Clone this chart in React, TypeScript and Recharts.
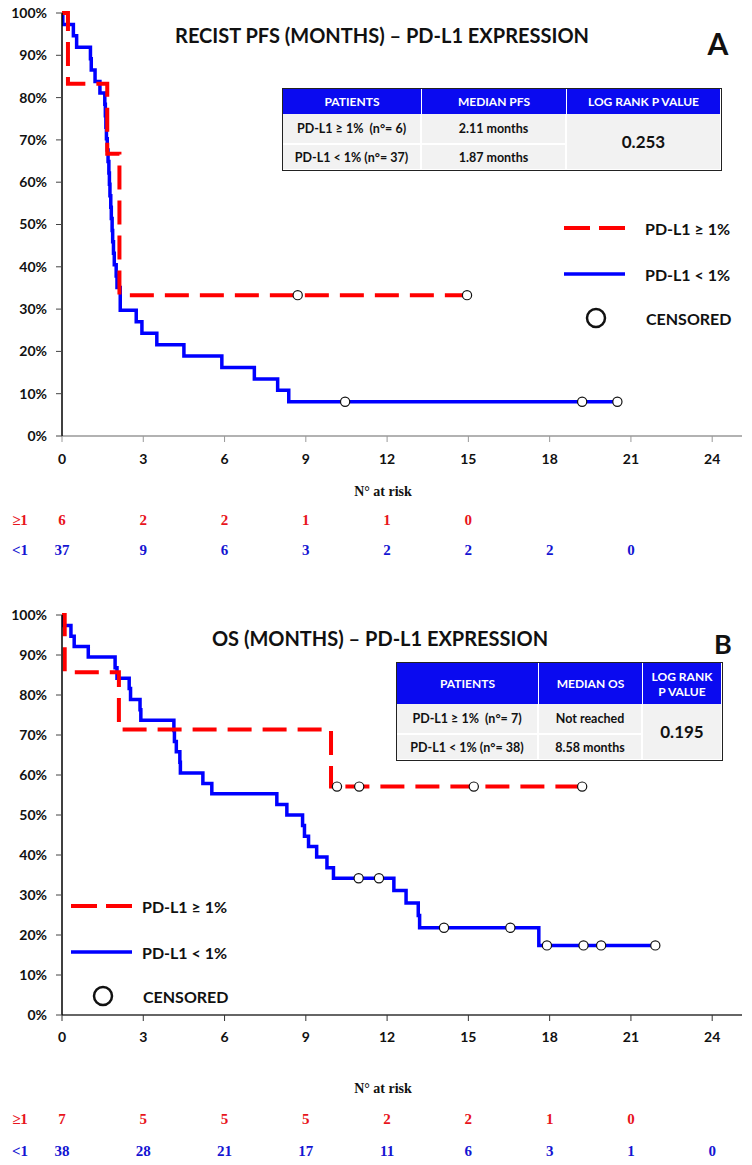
import React from 'react';
import { ComposedChart, Line, Scatter, XAxis, YAxis } from 'recharts';

type Pt = { t: number; s: number };

const X_TICKS = [0, 3, 6, 9, 12, 15, 18, 21, 24];
const Y_TICKS = [0, 10, 20, 30, 40, 50, 60, 70, 80, 90, 100];
const X_MAX = 25.1;

// Panel A – RECIST PFS
const pfsHigh: Pt[] = [
  { t: 0, s: 100 }, { t: 0.22, s: 83.3 }, { t: 1.67, s: 66.7 }, { t: 2.12, s: 33.3 }, { t: 14.95, s: 33.3 },
];
const pfsHighCensored: Pt[] = [{ t: 8.7, s: 33.3 }, { t: 14.95, s: 33.3 }];
const pfsLow: Pt[] = [
  { t: 0, s: 100 }, { t: 0.03, s: 97.3 }, { t: 0.42, s: 94.6 }, { t: 0.54, s: 91.9 }, { t: 1.05, s: 89.2 },
  { t: 1.08, s: 86.5 }, { t: 1.22, s: 83.8 }, { t: 1.4, s: 81.1 }, { t: 1.58, s: 78.4 }, { t: 1.6, s: 75.7 },
  { t: 1.62, s: 73.0 }, { t: 1.64, s: 70.3 }, { t: 1.67, s: 67.6 }, { t: 1.7, s: 64.9 }, { t: 1.73, s: 62.2 },
  { t: 1.75, s: 59.5 }, { t: 1.77, s: 56.8 }, { t: 1.8, s: 54.1 }, { t: 1.82, s: 51.4 }, { t: 1.85, s: 48.6 },
  { t: 1.87, s: 45.9 }, { t: 1.9, s: 43.2 }, { t: 1.93, s: 40.5 }, { t: 2.0, s: 37.8 }, { t: 2.03, s: 35.1 },
  { t: 2.15, s: 29.7 }, { t: 2.74, s: 27.0 }, { t: 2.95, s: 24.3 }, { t: 3.5, s: 21.6 }, { t: 4.5, s: 18.9 },
  { t: 5.9, s: 16.2 }, { t: 7.1, s: 13.5 }, { t: 7.96, s: 10.8 }, { t: 8.37, s: 8.1 }, { t: 20.5, s: 8.1 },
];
const pfsLowCensored: Pt[] = [{ t: 10.45, s: 8.1 }, { t: 19.2, s: 8.1 }, { t: 20.5, s: 8.1 }];
const pfsRiskHigh = [6, 2, 2, 1, 1, 0];
const pfsRiskLow = [37, 9, 6, 3, 2, 2, 2, 0];

// Panel B – OS
const osHigh: Pt[] = [
  { t: 0, s: 100 }, { t: 0.1, s: 85.7 }, { t: 2.1, s: 71.4 }, { t: 9.93, s: 57.1 }, { t: 19.2, s: 57.1 },
];
const osHighCensored: Pt[] = [{ t: 10.15, s: 57.1 }, { t: 10.97, s: 57.1 }, { t: 15.2, s: 57.1 }, { t: 19.2, s: 57.1 }];
const osLow: Pt[] = [
  { t: 0, s: 100 }, { t: 0.05, s: 97.4 }, { t: 0.33, s: 94.7 }, { t: 0.45, s: 92.1 }, { t: 0.97, s: 89.5 },
  { t: 1.96, s: 86.8 }, { t: 2.03, s: 84.2 }, { t: 2.48, s: 81.6 }, { t: 2.53, s: 78.9 }, { t: 2.88, s: 76.3 },
  { t: 2.91, s: 73.7 }, { t: 4.13, s: 71.1 }, { t: 4.15, s: 68.4 }, { t: 4.22, s: 65.8 }, { t: 4.35, s: 63.2 },
  { t: 4.37, s: 60.5 }, { t: 5.2, s: 57.9 }, { t: 5.53, s: 55.3 }, { t: 7.93, s: 52.6 }, { t: 8.3, s: 50.0 },
  { t: 8.88, s: 47.4 }, { t: 8.95, s: 44.7 }, { t: 9.1, s: 42.1 }, { t: 9.4, s: 39.5 }, { t: 9.78, s: 36.8 },
  { t: 10.02, s: 34.2 }, { t: 12.25, s: 31.1 }, { t: 12.7, s: 28.0 }, { t: 13.15, s: 24.9 }, { t: 13.2, s: 21.8 },
  { t: 17.6, s: 17.4 }, { t: 21.9, s: 17.4 },
];
const osLowCensored: Pt[] = [
  { t: 10.95, s: 34.2 }, { t: 11.7, s: 34.2 }, { t: 14.1, s: 21.8 }, { t: 16.55, s: 21.8 },
  { t: 17.9, s: 17.4 }, { t: 19.25, s: 17.4 }, { t: 19.9, s: 17.4 }, { t: 21.9, s: 17.4 },
];
const osRiskHigh = [7, 5, 5, 5, 2, 2, 1, 0];
const osRiskLow = [38, 28, 21, 17, 11, 6, 3, 1, 0];

const FONT = "Lato, 'Open Sans', sans-serif";
const SERIF = "'Liberation Serif', 'Times New Roman', serif";
const RED = '#FF0000';
const BLUE = '#0000FF';
const RISK_RED = '#E8141C';
const RISK_BLUE = '#1414D2';
const HEADER_BLUE = '#0A0AF0';

const Censor = (props: any) => {
  const { cx, cy } = props;
  if (cx == null || cy == null) return <g />;
  return <circle cx={cx} cy={cy} r={4.6} fill="#fff" stroke="#111" strokeWidth={1.2} />;
};

function riskTick(high: number[], low: number[], dyLabel: number, dyHigh: number, dyLow: number) {
  return (props: any) => {
    const { x, y, payload } = props;
    const i = Math.round(payload.value / 3);
    return (
      <g>
        <text x={x} y={y + dyLabel} textAnchor="middle" dominantBaseline="central" fontFamily={FONT} fontWeight={700} fontSize={14} fill="#111">
          {payload.value}
        </text>
        {i < high.length && (
          <text x={x} y={y + dyHigh} textAnchor="middle" dominantBaseline="central" fontFamily={SERIF} fontWeight={700} fontSize={15} fill={RISK_RED}>
            {high[i]}
          </text>
        )}
        {i < low.length && (
          <text x={x} y={y + dyLow} textAnchor="middle" dominantBaseline="central" fontFamily={SERIF} fontWeight={700} fontSize={15} fill={RISK_BLUE}>
            {low[i]}
          </text>
        )}
      </g>
    );
  };
}

type PanelProps = {
  top: number; marginTop: number; plotHeight: number; axisHeight: number;
  high: Pt[]; highCens: Pt[]; low: Pt[]; lowCens: Pt[];
  riskHigh: number[]; riskLow: number[]; dys: [number, number, number]; xAxisColor: string;
};

function KMPanel(p: PanelProps) {
  const height = p.marginTop + p.plotHeight + p.axisHeight;
  return (
    <div style={{ position: 'absolute', left: 0, top: p.top }}>
      <ComposedChart width={752} height={height} margin={{ top: p.marginTop, right: 10, bottom: 0, left: 0 }}>
        <XAxis
          xAxisId={0}
          type="number"
          dataKey="t"
          domain={[0, X_MAX]}
          ticks={X_TICKS}
          interval={0}
          height={p.axisHeight}
          allowDataOverflow
          tick={riskTick(p.riskHigh, p.riskLow, p.dys[0], p.dys[1], p.dys[2])}
          tickSize={6}
          tickMargin={2}
          axisLine={{ stroke: p.xAxisColor, strokeWidth: 1.5 }}
          tickLine={{ stroke: p.xAxisColor }}
        />
        <XAxis xAxisId="top" orientation="top" type="number" domain={[0, X_MAX]} height={0} tick={false} tickLine={false} axisLine={{ stroke: '#333' }} />
        <YAxis
          yAxisId={0}
          type="number"
          dataKey="s"
          domain={[0, 100]}
          ticks={Y_TICKS}
          interval={0}
          width={62}
          tickFormatter={(v: number) => `${v}%`}
          tick={{ fontFamily: FONT, fontWeight: 700, fontSize: 14, fill: '#111' }}
          tickSize={6}
          tickMargin={9}
          axisLine={{ stroke: '#000', strokeWidth: 1.5 }}
          tickLine={{ stroke: '#444' }}
        />
        <YAxis yAxisId="right" orientation="right" width={0} domain={[0, 100]} tick={false} tickLine={false} axisLine={{ stroke: '#777' }} />
        <Line data={p.low} dataKey="s" type="stepAfter" stroke={BLUE} strokeWidth={3.5} dot={false} activeDot={false} isAnimationActive={false} />
        <Line data={p.high} dataKey="s" type="stepAfter" stroke={RED} strokeWidth={4} strokeDasharray="24 11" dot={false} activeDot={false} isAnimationActive={false} />
        <Scatter data={p.highCens} dataKey="s" shape={Censor} isAnimationActive={false} />
        <Scatter data={p.lowCens} dataKey="s" shape={Censor} isAnimationActive={false} />
      </ComposedChart>
    </div>
  );
}

const cellBase: React.CSSProperties = {
  display: 'flex', alignItems: 'center', justifyContent: 'center', fontFamily: FONT, fontWeight: 700,
  boxSizing: 'border-box', whiteSpace: 'pre', textAlign: 'center',
};
const head: React.CSSProperties = { ...cellBase, background: HEADER_BLUE, color: '#fff', fontSize: 12 };
const body: React.CSSProperties = { ...cellBase, background: '#F2F2F2', color: '#111', fontSize: 12.5 };

function TableA() {
  return (
    <div style={{ position: 'absolute', left: 282, top: 88, width: 440, height: 83, border: '1.5px solid #222', boxSizing: 'border-box', display: 'grid', gridTemplateColumns: '139px 145px 153px', gridTemplateRows: '25px 29px 26px', background: '#fff' }}>
      <div style={{ ...head, borderRight: '1.5px solid #fff' }}>PATIENTS</div>
      <div style={{ ...head, borderRight: '1.5px solid #fff' }}>MEDIAN PFS</div>
      <div style={head}>LOG RANK P VALUE</div>
      <div style={{ ...body, borderRight: '2px solid #fff' }}>{'PD-L1 ≥ 1%  (n°= 6)'}</div>
      <div style={{ ...body, borderRight: '2px solid #fff' }}>2.11 months</div>
      <div style={{ ...body, gridRow: '2 / span 2', gridColumn: 3, fontSize: 17 }}>0.253</div>
      <div style={{ ...body, borderRight: '2px solid #fff', borderTop: '2px solid #fff' }}>{'PD-L1 < 1% (n°= 37)'}</div>
      <div style={{ ...body, borderRight: '2px solid #fff', borderTop: '2px solid #fff' }}>1.87 months</div>
    </div>
  );
}

function TableB() {
  return (
    <div style={{ position: 'absolute', left: 396, top: 662, width: 327, height: 99, border: '1.5px solid #222', boxSizing: 'border-box', display: 'grid', gridTemplateColumns: '142px 104px 78px', gridTemplateRows: '41px 29px 26px', background: '#fff' }}>
      <div style={{ ...head, borderRight: '1.5px solid #fff' }}>PATIENTS</div>
      <div style={{ ...head, borderRight: '1.5px solid #fff' }}>MEDIAN OS</div>
      <div style={{ ...head, lineHeight: '15px' }}>{'LOG RANK\nP VALUE'}</div>
      <div style={{ ...body, borderRight: '2px solid #fff' }}>{'PD-L1 ≥ 1%  (n°= 7)'}</div>
      <div style={{ ...body, borderRight: '2px solid #fff' }}>Not reached</div>
      <div style={{ ...body, gridRow: '2 / span 2', gridColumn: 3, fontSize: 17 }}>0.195</div>
      <div style={{ ...body, borderRight: '2px solid #fff', borderTop: '2px solid #fff' }}>{'PD-L1 < 1% (n°= 38)'}</div>
      <div style={{ ...body, borderRight: '2px solid #fff', borderTop: '2px solid #fff' }}>8.58 months</div>
    </div>
  );
}

function Legend({ x0, xText, yRed, yBlue, yCens }: { x0: number; xText: number; yRed: number; yBlue: number; yCens: number }) {
  const t = { fontFamily: FONT, fontWeight: 700, fontSize: 16, fill: '#111' } as any;
  return (
    <g>
      <line x1={x0} x2={x0 + 61} y1={yRed} y2={yRed} stroke={RED} strokeWidth={4} strokeDasharray="26 9" />
      <text x={xText} y={yRed} dominantBaseline="central" {...t}>PD-L1 ≥ 1%</text>
      <line x1={x0} x2={x0 + 61} y1={yBlue} y2={yBlue} stroke={BLUE} strokeWidth={3.5} />
      <text x={xText} y={yBlue} dominantBaseline="central" {...t}>PD-L1 &lt; 1%</text>
      <circle cx={x0 + 32} cy={yCens} r={9} fill="#fff" stroke="#111" strokeWidth={2.5} />
      <text x={xText + 1} y={yCens} dominantBaseline="central" {...t}>CENSORED</text>
    </g>
  );
}

export default function App() {
  const title = { fontFamily: FONT, fontWeight: 700, fill: '#111' } as any;
  const risk = { fontFamily: SERIF, fontWeight: 700, fontSize: 15 } as any;
  return (
    <div style={{ position: 'absolute', left: 0, top: 0, width: 752, height: 1165, background: '#fff' }}>
      <KMPanel
        top={0} marginTop={13} plotHeight={423} axisHeight={125}
        high={pfsHigh} highCens={pfsHighCensored} low={pfsLow} lowCens={pfsLowCensored}
        riskHigh={pfsRiskHigh} riskLow={pfsRiskLow} dys={[14, 76, 106]} xAxisColor="#999"
      />
      <KMPanel
        top={590} marginTop={25} plotHeight={400} axisHeight={148}
        high={osHigh} highCens={osHighCensored} low={osLow} lowCens={osLowCensored}
        riskHigh={osRiskHigh} riskLow={osRiskLow} dys={[13, 96, 128]} xAxisColor="#333"
      />
      <svg width={752} height={1165} style={{ position: 'absolute', left: 0, top: 0, pointerEvents: 'none' }}>
        <text x={382} y={35} textAnchor="middle" dominantBaseline="central" fontSize={20} {...title}>RECIST PFS (MONTHS) – PD-L1 EXPRESSION</text>
        <text x={718} y={43} textAnchor="middle" dominantBaseline="central" fontSize={30} {...title}>A</text>
        <text x={380} y={638} textAnchor="middle" dominantBaseline="central" fontSize={20} {...title}>OS (MONTHS) – PD-L1 EXPRESSION</text>
        <text x={723} y={643} textAnchor="middle" dominantBaseline="central" fontSize={27} {...title}>B</text>
        <Legend x0={564} xText={645} yRed={228} yBlue={274} yCens={318} />
        <Legend x0={71} xText={142} yRed={906} yBlue={952} yCens={996} />
        <text x={383} y={491} textAnchor="middle" dominantBaseline="central" fontFamily={SERIF} fontWeight={700} fontSize={14} fill="#111">N° at risk</text>
        <text x={383} y={1088} textAnchor="middle" dominantBaseline="central" fontFamily={SERIF} fontWeight={700} fontSize={14} fill="#111">N° at risk</text>
        <text x={20} y={520} textAnchor="middle" dominantBaseline="central" fill={RISK_RED} {...risk}>≥1</text>
        <text x={20} y={550} textAnchor="middle" dominantBaseline="central" fill={RISK_BLUE} {...risk}>&lt;1</text>
        <text x={20} y={1119} textAnchor="middle" dominantBaseline="central" fill={RISK_RED} {...risk}>≥1</text>
        <text x={20} y={1151} textAnchor="middle" dominantBaseline="central" fill={RISK_BLUE} {...risk}>&lt;1</text>
      </svg>
      <TableA />
      <TableB />
    </div>
  );
}
